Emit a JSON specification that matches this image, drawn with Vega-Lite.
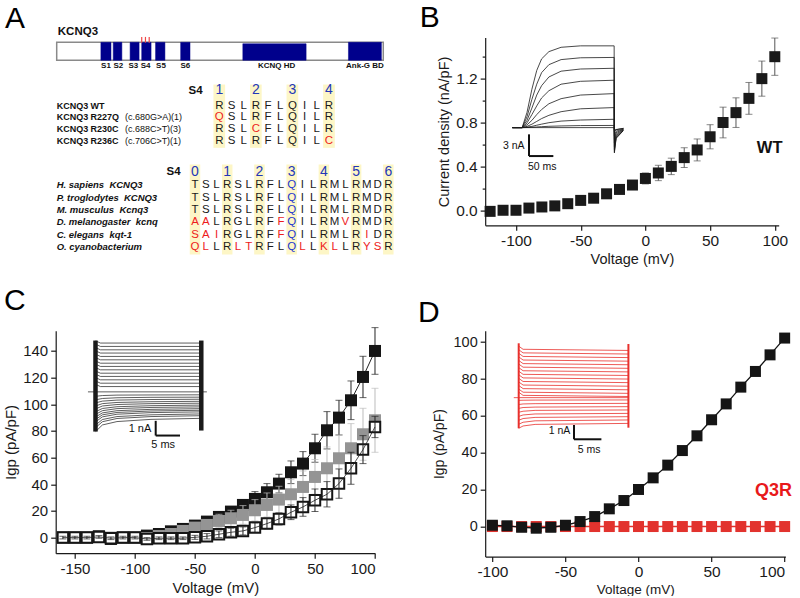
{
"$schema":"https://vega.github.io/schema/vega-lite/v6.json",
"background":"white",
"padding":{"left":2.7,"top":2.6,"right":0,"bottom":0},
"columns":2,
"align":"none",
"bounds":"flush",
"spacing":{"row":105.1,"column":109.5},
"config":{
 "view":{"stroke":null},
 "font":"Liberation Sans",
 "title":{"font":"Liberation Sans","fontSize":30,"fontWeight":"normal","anchor":"start","frame":"group","baseline":"alphabetic","color":"#000"},
 "axis":{"domainColor":"#1a1a1a","tickColor":"#1a1a1a","labelColor":"#1a1a1a","titleColor":"#1a1a1a","grid":false,"labelFont":"Liberation Sans","titleFont":"Liberation Sans","titleFontWeight":"normal","tickSize":5,"labelPadding":3,"titlePadding":4,"domainWidth":1.2,"tickWidth":1.2},
 "text":{"font":"Liberation Sans"}
},
"concat":[
{
 "width":316.3,"height":182.7,
 "title":{"text":"A","dx":-50.7,"offset":-7.9},
 "layer":[
  {
   "data":{"values":[
    {"kind":"bar","x":0,"x2":872,"y":0,"y2":1},
    {"kind":"blk","x":118,"x2":145,"y":0,"y2":1},
    {"kind":"blk","x":151,"x2":174,"y":0,"y2":1},
    {"kind":"blk","x":196,"x2":220,"y":0,"y2":1},
    {"kind":"blk","x":227,"x2":252,"y":0,"y2":1},
    {"kind":"blk","x":264,"x2":289,"y":0,"y2":1},
    {"kind":"blk","x":331,"x2":356,"y":0,"y2":1},
    {"kind":"blk","x":497,"x2":666,"y":0.08,"y2":1},
    {"kind":"blk","x":779,"x2":867,"y":0,"y2":1},
    {"kind":"tick","x":227,"y":-0.3,"y2":0.02},
    {"kind":"tick","x":237,"y":-0.3,"y2":0.02},
    {"kind":"tick","x":247,"y":-0.3,"y2":0.02},
    {"kind":"lab","x":131.6,"y":1.3,"label":"S1"},
    {"kind":"lab","x":164.5,"y":1.3,"label":"S2"},
    {"kind":"lab","x":204.5,"y":1.3,"label":"S3"},
    {"kind":"lab","x":237.6,"y":1.3,"label":"S4"},
    {"kind":"lab","x":278.5,"y":1.3,"label":"S5"},
    {"kind":"lab","x":343.4,"y":1.3,"label":"S6"},
    {"kind":"lab","x":587,"y":1.3,"label":"KCNQ HD"},
    {"kind":"lab","x":823,"y":1.3,"label":"Ank-G BD"},
    {"kind":"ttl","x":3,"y":-0.57,"label":"KCNQ3"}
   ]},
   "encoding":{
    "x":{"field":"x","type":"quantitative","scale":{"domain":[-2.67,841.9],"nice":false,"zero":false},"axis":null},
    "y":{"field":"y","type":"quantitative","scale":{"domain":[-0.261,9.889],"nice":false,"zero":false,"reverse":true},"axis":null}
   },
   "layer":[
    {"transform":[{"filter":"datum.kind=='bar'"}],"mark":{"type":"rect","fill":"white","stroke":"#8a8a8a","strokeWidth":1.5},"encoding":{"x2":{"field":"x2"},"y2":{"field":"y2"}}},
    {"transform":[{"filter":"datum.kind=='blk'"}],"mark":{"type":"rect","fill":"#00008c","stroke":"#00008c","strokeWidth":0.5},"encoding":{"x2":{"field":"x2"},"y2":{"field":"y2"}}},
    {"transform":[{"filter":"datum.kind=='tick'"}],"mark":{"type":"rule","color":"#f04848","strokeWidth":1.2},"encoding":{"y2":{"field":"y2"}}},
    {"transform":[{"filter":"datum.kind=='lab'"}],"mark":{"type":"text","fontSize":8,"fontWeight":"bold","baseline":"middle","color":"#111"},"encoding":{"text":{"field":"label"}}},
    {"transform":[{"filter":"datum.kind=='ttl'"}],"mark":{"type":"text","fontSize":11.5,"fontWeight":"bold","baseline":"middle","align":"left","color":"#111"},"encoding":{"text":{"field":"label"}}}
   ]
  },
  {
   "encoding":{
    "x":{"field":"c","type":"quantitative","scale":{"domain":[-13.42,12.53],"nice":false,"zero":false},"axis":null},
    "y":{"field":"r","type":"quantitative","scale":{"domain":[-4.714,10.64],"nice":false,"zero":false,"reverse":true},"axis":null}
   },
   "layer":[
    {"data":{"values":[{"c":0,"r":-0.77,"r2":4.55},{"c":3,"r":-0.77,"r2":4.55},{"c":6,"r":-0.77,"r2":4.55},{"c":9,"r":-0.77,"r2":4.55}]},"mark":{"type":"rule","color":"#fdf6c6","strokeWidth":11.7},"encoding":{"y2":{"field":"r2"}}},
    {"data":{"values":[{"c":0,"r":-0.35,"n":"1"},{"c":3,"r":-0.35,"n":"2"},{"c":6,"r":-0.35,"n":"3"},{"c":9,"r":-0.35,"n":"4"}]},"mark":{"type":"text","fontSize":14,"color":"#2336b8","baseline":"middle"},"encoding":{"text":{"field":"n"}}},
    {"data":{"values":[{"c":-1.95,"r":-0.2,"n":"S4"}]},"mark":{"type":"text","fontSize":11.5,"fontWeight":"bold","baseline":"middle","color":"#111"},"encoding":{"text":{"field":"n"}}},
    {"data":{"values":[{"c":-13.34,"r":1,"n":"KCNQ3 WT"},{"c":-13.34,"r":2,"n":"KCNQ3 R227Q"},{"c":-13.34,"r":3,"n":"KCNQ3 R230C"},{"c":-13.34,"r":4,"n":"KCNQ3 R236C"}]},"mark":{"type":"text","fontSize":9,"fontWeight":"bold","align":"left","baseline":"middle","color":"#111"},"encoding":{"text":{"field":"n"}}},
    {"data":{"values":[{"c":-7.74,"r":2,"n":"(c.680G>A)(1)"},{"c":-7.74,"r":3,"n":"(c.688C>T)(3)"},{"c":-7.74,"r":4,"n":"(c.706C>T)(1)"}]},"mark":{"type":"text","fontSize":9,"align":"left","baseline":"middle","color":"#111"},"encoding":{"text":{"field":"n"}}},
    {"data":{"values":[
     {"r":1,"c":0,"t":"R","k":"k"},{"r":1,"c":1,"t":"S","k":"k"},{"r":1,"c":2,"t":"L","k":"k"},{"r":1,"c":3,"t":"R","k":"k"},{"r":1,"c":4,"t":"F","k":"k"},{"r":1,"c":5,"t":"L","k":"k"},{"r":1,"c":6,"t":"Q","k":"k"},{"r":1,"c":7,"t":"I","k":"k"},{"r":1,"c":8,"t":"L","k":"k"},{"r":1,"c":9,"t":"R","k":"k"},
     {"r":2,"c":0,"t":"Q","k":"r"},{"r":2,"c":1,"t":"S","k":"k"},{"r":2,"c":2,"t":"L","k":"k"},{"r":2,"c":3,"t":"R","k":"k"},{"r":2,"c":4,"t":"F","k":"k"},{"r":2,"c":5,"t":"L","k":"k"},{"r":2,"c":6,"t":"Q","k":"k"},{"r":2,"c":7,"t":"I","k":"k"},{"r":2,"c":8,"t":"L","k":"k"},{"r":2,"c":9,"t":"R","k":"k"},
     {"r":3,"c":0,"t":"R","k":"k"},{"r":3,"c":1,"t":"S","k":"k"},{"r":3,"c":2,"t":"L","k":"k"},{"r":3,"c":3,"t":"C","k":"r"},{"r":3,"c":4,"t":"F","k":"k"},{"r":3,"c":5,"t":"L","k":"k"},{"r":3,"c":6,"t":"Q","k":"k"},{"r":3,"c":7,"t":"I","k":"k"},{"r":3,"c":8,"t":"L","k":"k"},{"r":3,"c":9,"t":"R","k":"k"},
     {"r":4,"c":0,"t":"R","k":"k"},{"r":4,"c":1,"t":"S","k":"k"},{"r":4,"c":2,"t":"L","k":"k"},{"r":4,"c":3,"t":"R","k":"k"},{"r":4,"c":4,"t":"F","k":"k"},{"r":4,"c":5,"t":"L","k":"k"},{"r":4,"c":6,"t":"Q","k":"k"},{"r":4,"c":7,"t":"I","k":"k"},{"r":4,"c":8,"t":"L","k":"k"},{"r":4,"c":9,"t":"C","k":"r"}
    ]},"mark":{"type":"text","fontSize":11.5,"baseline":"middle"},"encoding":{"text":{"field":"t"},"color":{"field":"k","type":"nominal","scale":{"domain":["k","r","b"],"range":["#1a1a1a","#ee1c1c","#2336d0"]},"legend":null}}}
   ]
  },
  {
   "encoding":{
    "x":{"field":"c","type":"quantitative","scale":{"domain":[-12.97,16.48],"nice":false,"zero":false},"axis":null},
    "y":{"field":"r","type":"quantitative","scale":{"domain":[-10.99,3.84],"nice":false,"zero":false,"reverse":true},"axis":null}
   },
   "layer":[
    {"data":{"values":[{"c":0,"r":-0.68,"r2":6.62},{"c":3,"r":-0.68,"r2":6.62},{"c":6,"r":-0.68,"r2":6.62},{"c":9,"r":-0.68,"r2":6.62},{"c":12,"r":-0.68,"r2":6.62},{"c":15,"r":-0.68,"r2":6.62},{"c":18,"r":-0.68,"r2":6.62}]},"mark":{"type":"rule","color":"#fdf6c6","strokeWidth":10.5},"encoding":{"y2":{"field":"r2"}}},
    {"data":{"values":[{"c":0,"r":-0.12,"n":"0"},{"c":3,"r":-0.12,"n":"1"},{"c":6,"r":-0.12,"n":"2"},{"c":9,"r":-0.12,"n":"3"},{"c":12,"r":-0.12,"n":"4"},{"c":15,"r":-0.12,"n":"5"},{"c":18,"r":-0.12,"n":"6"}]},"mark":{"type":"text","fontSize":14,"color":"#2336b8","baseline":"middle"},"encoding":{"text":{"field":"n"}}},
    {"data":{"values":[{"c":-2.0,"r":-0.09,"n":"S4"}]},"mark":{"type":"text","fontSize":11.5,"fontWeight":"bold","baseline":"middle","color":"#111"},"encoding":{"text":{"field":"n"}}},
    {"data":{"values":[{"c":-12.88,"r":1,"n":"H. sapiens\u00a0 KCNQ3"},{"c":-12.88,"r":2,"n":"P. troglodytes\u00a0 KCNQ3"},{"c":-12.88,"r":3,"n":"M. musculus\u00a0 Kcnq3"},{"c":-12.88,"r":4,"n":"D. melanogaster\u00a0 kcnq"},{"c":-12.88,"r":5,"n":"C. elegans\u00a0 kqt-1"},{"c":-12.88,"r":6,"n":"O. cyanobacterium"}]},"mark":{"type":"text","fontSize":9.5,"fontWeight":"bold","fontStyle":"italic","align":"left","baseline":"middle","color":"#111"},"encoding":{"text":{"field":"n"}}},
    {"data":{"values":[
     {"r":1,"c":0,"t":"T","k":"k"},{"r":1,"c":1,"t":"S","k":"k"},{"r":1,"c":2,"t":"L","k":"k"},{"r":1,"c":3,"t":"R","k":"k"},{"r":1,"c":4,"t":"S","k":"k"},{"r":1,"c":5,"t":"L","k":"k"},{"r":1,"c":6,"t":"R","k":"k"},{"r":1,"c":7,"t":"F","k":"k"},{"r":1,"c":8,"t":"L","k":"k"},{"r":1,"c":9,"t":"Q","k":"b"},{"r":1,"c":10,"t":"I","k":"k"},{"r":1,"c":11,"t":"L","k":"k"},{"r":1,"c":12,"t":"R","k":"k"},{"r":1,"c":13,"t":"M","k":"k"},{"r":1,"c":14,"t":"L","k":"k"},{"r":1,"c":15,"t":"R","k":"k"},{"r":1,"c":16,"t":"M","k":"k"},{"r":1,"c":17,"t":"D","k":"k"},{"r":1,"c":18,"t":"R","k":"k"},
     {"r":2,"c":0,"t":"T","k":"k"},{"r":2,"c":1,"t":"S","k":"k"},{"r":2,"c":2,"t":"L","k":"k"},{"r":2,"c":3,"t":"R","k":"k"},{"r":2,"c":4,"t":"S","k":"k"},{"r":2,"c":5,"t":"L","k":"k"},{"r":2,"c":6,"t":"R","k":"k"},{"r":2,"c":7,"t":"F","k":"k"},{"r":2,"c":8,"t":"L","k":"k"},{"r":2,"c":9,"t":"Q","k":"b"},{"r":2,"c":10,"t":"I","k":"k"},{"r":2,"c":11,"t":"L","k":"k"},{"r":2,"c":12,"t":"R","k":"k"},{"r":2,"c":13,"t":"M","k":"k"},{"r":2,"c":14,"t":"L","k":"k"},{"r":2,"c":15,"t":"R","k":"k"},{"r":2,"c":16,"t":"M","k":"k"},{"r":2,"c":17,"t":"D","k":"k"},{"r":2,"c":18,"t":"R","k":"k"},
     {"r":3,"c":0,"t":"T","k":"k"},{"r":3,"c":1,"t":"S","k":"k"},{"r":3,"c":2,"t":"L","k":"k"},{"r":3,"c":3,"t":"R","k":"k"},{"r":3,"c":4,"t":"S","k":"k"},{"r":3,"c":5,"t":"L","k":"k"},{"r":3,"c":6,"t":"R","k":"k"},{"r":3,"c":7,"t":"F","k":"k"},{"r":3,"c":8,"t":"L","k":"k"},{"r":3,"c":9,"t":"Q","k":"b"},{"r":3,"c":10,"t":"I","k":"k"},{"r":3,"c":11,"t":"L","k":"k"},{"r":3,"c":12,"t":"R","k":"k"},{"r":3,"c":13,"t":"M","k":"k"},{"r":3,"c":14,"t":"L","k":"k"},{"r":3,"c":15,"t":"R","k":"k"},{"r":3,"c":16,"t":"M","k":"k"},{"r":3,"c":17,"t":"D","k":"k"},{"r":3,"c":18,"t":"R","k":"k"},
     {"r":4,"c":0,"t":"A","k":"r"},{"r":4,"c":1,"t":"A","k":"r"},{"r":4,"c":2,"t":"L","k":"k"},{"r":4,"c":3,"t":"R","k":"k"},{"r":4,"c":4,"t":"G","k":"k"},{"r":4,"c":5,"t":"L","k":"k"},{"r":4,"c":6,"t":"R","k":"k"},{"r":4,"c":7,"t":"F","k":"k"},{"r":4,"c":8,"t":"F","k":"r"},{"r":4,"c":9,"t":"Q","k":"b"},{"r":4,"c":10,"t":"I","k":"k"},{"r":4,"c":11,"t":"L","k":"k"},{"r":4,"c":12,"t":"R","k":"k"},{"r":4,"c":13,"t":"M","k":"k"},{"r":4,"c":14,"t":"V","k":"r"},{"r":4,"c":15,"t":"R","k":"k"},{"r":4,"c":16,"t":"M","k":"k"},{"r":4,"c":17,"t":"D","k":"k"},{"r":4,"c":18,"t":"R","k":"k"},
     {"r":5,"c":0,"t":"S","k":"r"},{"r":5,"c":1,"t":"A","k":"r"},{"r":5,"c":2,"t":"I","k":"r"},{"r":5,"c":3,"t":"R","k":"k"},{"r":5,"c":4,"t":"G","k":"k"},{"r":5,"c":5,"t":"L","k":"k"},{"r":5,"c":6,"t":"R","k":"k"},{"r":5,"c":7,"t":"F","k":"k"},{"r":5,"c":8,"t":"F","k":"r"},{"r":5,"c":9,"t":"Q","k":"b"},{"r":5,"c":10,"t":"I","k":"k"},{"r":5,"c":11,"t":"L","k":"k"},{"r":5,"c":12,"t":"R","k":"k"},{"r":5,"c":13,"t":"M","k":"k"},{"r":5,"c":14,"t":"L","k":"k"},{"r":5,"c":15,"t":"R","k":"k"},{"r":5,"c":16,"t":"I","k":"r"},{"r":5,"c":17,"t":"D","k":"k"},{"r":5,"c":18,"t":"R","k":"k"},
     {"r":6,"c":0,"t":"Q","k":"r"},{"r":6,"c":1,"t":"L","k":"r"},{"r":6,"c":2,"t":"L","k":"k"},{"r":6,"c":3,"t":"R","k":"k"},{"r":6,"c":4,"t":"L","k":"r"},{"r":6,"c":5,"t":"T","k":"r"},{"r":6,"c":6,"t":"R","k":"k"},{"r":6,"c":7,"t":"F","k":"k"},{"r":6,"c":8,"t":"L","k":"k"},{"r":6,"c":9,"t":"Q","k":"b"},{"r":6,"c":10,"t":"L","k":"r"},{"r":6,"c":11,"t":"L","k":"k"},{"r":6,"c":12,"t":"K","k":"r"},{"r":6,"c":13,"t":"L","k":"r"},{"r":6,"c":14,"t":"L","k":"k"},{"r":6,"c":15,"t":"R","k":"k"},{"r":6,"c":16,"t":"Y","k":"r"},{"r":6,"c":17,"t":"S","k":"r"},{"r":6,"c":18,"t":"R","k":"k"}
    ]},"mark":{"type":"text","fontSize":11.5,"baseline":"middle"},"encoding":{"text":{"field":"t"},"color":{"field":"k","type":"nominal","scale":{"domain":["k","r","b"],"range":["#1a1a1a","#ee1c1c","#2336d0"]},"legend":null}}}
   ]
  }
 ],
 "resolve":{"scale":{"x":"independent","y":"independent"}}
},
{
 "width":293.5,"height":187.7,
 "title":{"text":"B","dx":-65.5,"offset":4.7},
 "layer":[
  {
   "data":{"values":[
    {"v":-120,"m":-0.01,"e":0.005},{"v":-110,"m":0.0,"e":0.005},{"v":-100,"m":0.0,"e":0.005},{"v":-90,"m":0.02,"e":0.008},{"v":-80,"m":0.03,"e":0.008},{"v":-70,"m":0.04,"e":0.01},{"v":-60,"m":0.06,"e":0.01},{"v":-50,"m":0.09,"e":0.015},{"v":-40,"m":0.11,"e":0.015},{"v":-30,"m":0.15,"e":0.02},{"v":-20,"m":0.19,"e":0.025},{"v":-10,"m":0.23,"e":0.03},{"v":0,"m":0.29,"e":0.05},{"v":10,"m":0.34,"e":0.07},{"v":20,"m":0.40,"e":0.075},{"v":30,"m":0.48,"e":0.09},{"v":40,"m":0.55,"e":0.1},{"v":50,"m":0.67,"e":0.11},{"v":60,"m":0.80,"e":0.14},{"v":70,"m":0.89,"e":0.135},{"v":80,"m":1.02,"e":0.145},{"v":90,"m":1.20,"e":0.16},{"v":100,"m":1.40,"e":0.17}
   ]},
   "encoding":{
    "x":{"field":"v","type":"quantitative","scale":{"domain":[-123.8,103],"nice":false,"zero":false},"axis":{"values":[-100,-50,0,50,100],"title":"Voltage (mV)","labelExpr":"''+datum.value","labelFontSize":15.5,"titleFontSize":14.5}},
    "y":{"field":"m","type":"quantitative","scale":{"domain":[-0.137,1.574],"nice":false,"zero":false},"axis":{"values":[0,0.2,0.4,0.6,0.8,1,1.2,1.4],"labelExpr":"(datum.value==0||datum.value==0.4||datum.value==0.8||datum.value==1.2)?format(datum.value,'.1f'):''","tickSize":{"condition":{"test":"datum.value==0.2||datum.value==0.6||datum.value==1||datum.value==1.4","value":3},"value":5},"title":"Current density (nA/pF)","labelFontSize":15.5,"titleFontSize":14.5}}
   },
   "layer":[
    {"mark":{"type":"errorbar","color":"#555","ticks":{"size":7,"color":"#555"}},"encoding":{"yError":{"field":"e"}}},
    {"mark":{"type":"square","size":121,"color":"#1a1a1a","opacity":1}},
    {"data":{"values":[{"v":96,"m":0.565,"n":"WT"}]},"mark":{"type":"text","fontSize":16.5,"fontWeight":"bold","color":"#111","baseline":"middle"},"encoding":{"text":{"field":"n"}}}
   ]
  },
  {
   "data":{"values":[
    {"k":1,"t":0,"i":0},{"k":1,"t":20,"i":0},{"k":1,"t":30,"i":2.1},{"k":1,"t":40,"i":5.3},{"k":1,"t":50,"i":7.9},{"k":1,"t":60,"i":9.5},{"k":1,"t":75,"i":10.5},{"k":1,"t":100,"i":11.1},{"k":1,"t":140,"i":11.3},{"k":1,"t":209,"i":11.3},{"k":1,"t":209.5,"i":-3.5},{"k":1,"t":213,"i":-1.5},{"k":1,"t":228,"i":-0.4},
    {"k":2,"t":0,"i":0},{"k":2,"t":20,"i":0},{"k":2,"t":30,"i":1.5},{"k":2,"t":40,"i":3.9},{"k":2,"t":50,"i":6.0},{"k":2,"t":60,"i":7.6},{"k":2,"t":75,"i":8.7},{"k":2,"t":100,"i":9.4},{"k":2,"t":140,"i":9.65},{"k":2,"t":209,"i":9.7},{"k":2,"t":209.5,"i":-3.3},{"k":2,"t":213,"i":-1.4},{"k":2,"t":228,"i":-0.4},
    {"k":3,"t":0,"i":0},{"k":3,"t":20,"i":0},{"k":3,"t":30,"i":1.0},{"k":3,"t":40,"i":2.7},{"k":3,"t":50,"i":4.5},{"k":3,"t":60,"i":5.8},{"k":3,"t":75,"i":7.0},{"k":3,"t":100,"i":7.8},{"k":3,"t":140,"i":8.1},{"k":3,"t":209,"i":8.2},{"k":3,"t":209.5,"i":-3.0},{"k":3,"t":213,"i":-1.3},{"k":3,"t":228,"i":-0.35},
    {"k":4,"t":0,"i":0},{"k":4,"t":20,"i":0},{"k":4,"t":30,"i":0.65},{"k":4,"t":40,"i":1.8},{"k":4,"t":50,"i":3.0},{"k":4,"t":60,"i":4.1},{"k":4,"t":75,"i":5.1},{"k":4,"t":100,"i":6.0},{"k":4,"t":140,"i":6.4},{"k":4,"t":209,"i":6.55},{"k":4,"t":209.5,"i":-2.6},{"k":4,"t":213,"i":-1.1},{"k":4,"t":228,"i":-0.3},
    {"k":5,"t":0,"i":0},{"k":5,"t":20,"i":0},{"k":5,"t":30,"i":0.38},{"k":5,"t":40,"i":1.0},{"k":5,"t":50,"i":1.8},{"k":5,"t":60,"i":2.5},{"k":5,"t":75,"i":3.3},{"k":5,"t":100,"i":4.0},{"k":5,"t":140,"i":4.5},{"k":5,"t":209,"i":4.7},{"k":5,"t":209.5,"i":-2.1},{"k":5,"t":213,"i":-0.9},{"k":5,"t":228,"i":-0.25},
    {"k":6,"t":0,"i":0},{"k":6,"t":20,"i":0},{"k":6,"t":30,"i":0.17},{"k":6,"t":40,"i":0.47},{"k":6,"t":50,"i":0.86},{"k":6,"t":60,"i":1.25},{"k":6,"t":75,"i":1.7},{"k":6,"t":100,"i":2.2},{"k":6,"t":140,"i":2.6},{"k":6,"t":209,"i":2.77},{"k":6,"t":209.5,"i":-1.6},{"k":6,"t":213,"i":-0.7},{"k":6,"t":228,"i":-0.2},
    {"k":7,"t":0,"i":0},{"k":7,"t":20,"i":0},{"k":7,"t":30,"i":0.06},{"k":7,"t":40,"i":0.17},{"k":7,"t":50,"i":0.33},{"k":7,"t":60,"i":0.48},{"k":7,"t":75,"i":0.68},{"k":7,"t":100,"i":0.9},{"k":7,"t":140,"i":1.05},{"k":7,"t":209,"i":1.15},{"k":7,"t":209.5,"i":-1.1},{"k":7,"t":213,"i":-0.5},{"k":7,"t":228,"i":-0.15},
    {"k":8,"t":0,"i":0},{"k":8,"t":20,"i":0},{"k":8,"t":30,"i":0.02},{"k":8,"t":40,"i":0.05},{"k":8,"t":50,"i":0.09},{"k":8,"t":60,"i":0.13},{"k":8,"t":75,"i":0.18},{"k":8,"t":100,"i":0.23},{"k":8,"t":140,"i":0.28},{"k":8,"t":209,"i":0.3},{"k":8,"t":209.5,"i":-0.6},{"k":8,"t":213,"i":-0.3},{"k":8,"t":228,"i":-0.1},
    {"k":9,"t":0,"i":0},{"k":9,"t":209,"i":0},{"k":9,"t":209.5,"i":-0.3},{"k":9,"t":228,"i":-0.1}
   ]},
   "encoding":{
    "x":{"field":"t","type":"quantitative","scale":{"domain":[-55.9,547],"nice":false,"zero":false},"axis":null},
    "y":{"field":"i","type":"quantitative","scale":{"domain":[-13.5,12.44],"nice":false,"zero":false},"axis":null}
   },
   "layer":[
    {"mark":{"type":"line","color":"#1a1a1a","strokeWidth":0.8},"encoding":{"detail":{"field":"k"}}},
    {"data":{"values":[{"t":34.1,"t2":34.1,"i":-0.93,"i2":-3.93},{"t":34.1,"t2":84.1,"i":-3.93,"i2":-3.93}]},"mark":{"type":"rule","color":"#111","strokeWidth":2},"encoding":{"x2":{"field":"t2"},"y2":{"field":"i2"}}},
    {"data":{"values":[{"t":2.7,"i":-2.54,"s":"3 nA"},{"t":61.3,"i":-5.45,"s":"50 ms"}]},"mark":{"type":"text","fontSize":10.5,"baseline":"middle","color":"#111"},"encoding":{"text":{"field":"s"}}}
   ]
  }
 ],
 "resolve":{"scale":{"x":"independent","y":"independent"}}
},
{
 "width":319.3,"height":222.5,
 "title":{"text":"C","dx":-51.8,"offset":11},
 "layer":[
  {
   "data":{"values":[
    {"s":"a","v":-160,"m":0,"e":1},{"s":"a","v":-150,"m":0,"e":1},{"s":"a","v":-140,"m":0,"e":1},{"s":"a","v":-130,"m":1,"e":1},{"s":"a","v":-120,"m":-1,"e":1},{"s":"a","v":-110,"m":0,"e":1},{"s":"a","v":-100,"m":0,"e":1},{"s":"a","v":-90,"m":1.5,"e":1},{"s":"a","v":-80,"m":2.7,"e":1.5},{"s":"a","v":-70,"m":4.7,"e":1.5},{"s":"a","v":-60,"m":6.5,"e":2},{"s":"a","v":-50,"m":9,"e":2},{"s":"a","v":-40,"m":12,"e":2.5},{"s":"a","v":-30,"m":15.5,"e":3},{"s":"a","v":-20,"m":19.5,"e":3.5},{"s":"a","v":-10,"m":24.5,"e":4},{"s":"a","v":0,"m":29,"e":5.5},{"s":"a","v":10,"m":34,"e":6.5},{"s":"a","v":20,"m":40.5,"e":7},{"s":"a","v":30,"m":49,"e":8.5},{"s":"a","v":40,"m":55.5,"e":9},{"s":"a","v":50,"m":67,"e":10.5},{"s":"a","v":60,"m":80.5,"e":14},{"s":"a","v":70,"m":90,"e":13},{"s":"a","v":80,"m":103,"e":14.5},{"s":"a","v":90,"m":120.5,"e":15.5},{"s":"a","v":100,"m":140,"e":17.5},
    {"s":"b","v":-160,"m":0,"e":1},{"s":"b","v":-150,"m":0,"e":1},{"s":"b","v":-140,"m":0,"e":1},{"s":"b","v":-130,"m":0.5,"e":1},{"s":"b","v":-120,"m":0,"e":1},{"s":"b","v":-110,"m":0,"e":1},{"s":"b","v":-100,"m":0,"e":1},{"s":"b","v":-90,"m":-0.3,"e":1},{"s":"b","v":-80,"m":1.2,"e":1.5},{"s":"b","v":-70,"m":2.7,"e":2},{"s":"b","v":-60,"m":5,"e":2.5},{"s":"b","v":-50,"m":7.5,"e":3},{"s":"b","v":-40,"m":9.5,"e":4},{"s":"b","v":-30,"m":12.5,"e":5},{"s":"b","v":-20,"m":14.5,"e":6},{"s":"b","v":-10,"m":17,"e":7},{"s":"b","v":0,"m":20.5,"e":8},{"s":"b","v":10,"m":24.5,"e":9},{"s":"b","v":20,"m":28.5,"e":10},{"s":"b","v":30,"m":32.5,"e":11},{"s":"b","v":40,"m":38,"e":12},{"s":"b","v":50,"m":45.5,"e":13},{"s":"b","v":60,"m":52,"e":16},{"s":"b","v":70,"m":59.5,"e":17.5},{"s":"b","v":80,"m":67,"e":18.5},{"s":"b","v":90,"m":77.5,"e":19.5},{"s":"b","v":100,"m":88,"e":24},
    {"s":"c","v":-160,"m":0,"e":1},{"s":"c","v":-150,"m":0,"e":1},{"s":"c","v":-140,"m":0,"e":1},{"s":"c","v":-130,"m":0.5,"e":1},{"s":"c","v":-120,"m":-0.5,"e":1},{"s":"c","v":-110,"m":0,"e":1},{"s":"c","v":-100,"m":0,"e":1},{"s":"c","v":-90,"m":-1,"e":1},{"s":"c","v":-80,"m":-0.5,"e":1},{"s":"c","v":-70,"m":-0.5,"e":1},{"s":"c","v":-60,"m":-0.5,"e":1},{"s":"c","v":-50,"m":0.2,"e":1.5},{"s":"c","v":-40,"m":1,"e":2},{"s":"c","v":-30,"m":2.5,"e":2.5},{"s":"c","v":-20,"m":4,"e":3},{"s":"c","v":-10,"m":5,"e":3},{"s":"c","v":0,"m":7.5,"e":3.5},{"s":"c","v":10,"m":10.5,"e":4},{"s":"c","v":20,"m":14,"e":4.5},{"s":"c","v":30,"m":19,"e":5.5},{"s":"c","v":40,"m":23,"e":7},{"s":"c","v":50,"m":28,"e":8.5},{"s":"c","v":60,"m":32.5,"e":9.5},{"s":"c","v":70,"m":40.5,"e":11},{"s":"c","v":80,"m":52,"e":12},{"s":"c","v":90,"m":66,"e":10.5},{"s":"c","v":100,"m":83,"e":8}
   ]},
   "encoding":{
    "x":{"field":"v","type":"quantitative","scale":{"domain":[-166,100],"nice":false,"zero":false},"axis":{"values":[-150,-100,-50,0,50,100],"title":"Voltage (mV)","labelExpr":"''+datum.value","labelFontSize":15,"titleFontSize":15}},
    "y":{"field":"m","type":"quantitative","scale":{"domain":[-11.7,155.2],"nice":false,"zero":false},"axis":{"values":[0,20,40,60,80,100,120,140],"title":"Igp (pA/pF)","labelFontSize":15,"titleFontSize":15}}
   },
   "layer":[
    {"transform":[{"filter":"datum.s=='a'"}],"mark":{"type":"errorbar","color":"#222","ticks":{"size":7,"color":"#222"}},"encoding":{"yError":{"field":"e"}}},
    {"transform":[{"filter":"datum.s=='a'"}],"mark":{"type":"line","color":"#222","strokeWidth":1}},
    {"transform":[{"filter":"datum.s=='a'"}],"mark":{"type":"square","size":144,"color":"#151515","opacity":1}},
    {"transform":[{"filter":"datum.s=='b'"}],"mark":{"type":"errorbar","color":"#bdbdbd","ticks":{"size":7,"color":"#bdbdbd"}},"encoding":{"yError":{"field":"e"}}},
    {"transform":[{"filter":"datum.s=='b'"}],"mark":{"type":"square","size":144,"color":"#949494","opacity":1}},
    {"transform":[{"filter":"datum.s=='c'"}],"mark":{"type":"square","size":110,"filled":true,"fill":"white","stroke":"#151515","strokeWidth":2,"opacity":1}},
    {"transform":[{"filter":"datum.s=='c'"}],"mark":{"type":"errorbar","color":"#222","ticks":{"size":7,"color":"#222"}},"encoding":{"yError":{"field":"e"}}},
    {"transform":[{"filter":"datum.s=='c'"}],"mark":{"type":"line","color":"#222","strokeWidth":0.8}}
   ]
  },
  {
   "data":{"values":[
    {"k":0,"t":-0.97,"i":0},{"k":0,"t":23.5,"i":0},
    {"k":1,"t":0.6,"i":3.47},{"k":1,"t":1.6,"i":3.32},{"k":1,"t":22.35,"i":3.32},
    {"k":2,"t":0.6,"i":3.24},{"k":2,"t":1.6,"i":3.09},{"k":2,"t":22.35,"i":3.09},
    {"k":3,"t":0.6,"i":3.01},{"k":3,"t":1.6,"i":2.86},{"k":3,"t":22.35,"i":2.86},
    {"k":4,"t":0.6,"i":2.79},{"k":4,"t":1.6,"i":2.64},{"k":4,"t":22.35,"i":2.64},
    {"k":5,"t":0.6,"i":2.56},{"k":5,"t":1.6,"i":2.41},{"k":5,"t":22.35,"i":2.41},
    {"k":6,"t":0.6,"i":2.33},{"k":6,"t":1.6,"i":2.18},{"k":6,"t":22.35,"i":2.18},
    {"k":7,"t":0.6,"i":2.1},{"k":7,"t":1.6,"i":1.95},{"k":7,"t":22.35,"i":1.95},
    {"k":8,"t":0.6,"i":1.88},{"k":8,"t":1.6,"i":1.73},{"k":8,"t":22.35,"i":1.73},
    {"k":9,"t":0.6,"i":1.65},{"k":9,"t":1.6,"i":1.5},{"k":9,"t":22.35,"i":1.5},
    {"k":10,"t":0.6,"i":1.42},{"k":10,"t":1.6,"i":1.27},{"k":10,"t":22.35,"i":1.27},
    {"k":11,"t":0.6,"i":1.2},{"k":11,"t":1.6,"i":1.05},{"k":11,"t":22.35,"i":1.05},
    {"k":12,"t":0.6,"i":0.97},{"k":12,"t":1.6,"i":0.82},{"k":12,"t":22.35,"i":0.82},
    {"k":13,"t":0.6,"i":0.74},{"k":13,"t":1.6,"i":0.59},{"k":13,"t":22.35,"i":0.59},
    {"k":14,"t":0.6,"i":0.51},{"k":14,"t":1.6,"i":0.36},{"k":14,"t":22.35,"i":0.36},
    {"k":21,"t":0.6,"i":-0.3},{"k":21,"t":2,"i":-0.25},{"k":21,"t":5,"i":-0.22},{"k":21,"t":12,"i":-0.21},{"k":21,"t":22.35,"i":-0.2},
    {"k":22,"t":0.6,"i":-0.54},{"k":22,"t":2,"i":-0.45},{"k":22,"t":5,"i":-0.4},{"k":22,"t":12,"i":-0.37},{"k":22,"t":22.35,"i":-0.36},
    {"k":23,"t":0.6,"i":-0.75},{"k":23,"t":2,"i":-0.63},{"k":23,"t":5,"i":-0.56},{"k":23,"t":12,"i":-0.52},{"k":23,"t":22.35,"i":-0.5},
    {"k":24,"t":0.6,"i":-0.96},{"k":24,"t":2,"i":-0.8},{"k":24,"t":5,"i":-0.72},{"k":24,"t":12,"i":-0.67},{"k":24,"t":22.35,"i":-0.64},
    {"k":25,"t":0.6,"i":-1.16},{"k":25,"t":2,"i":-0.96},{"k":25,"t":5,"i":-0.86},{"k":25,"t":12,"i":-0.8},{"k":25,"t":22.35,"i":-0.77},
    {"k":26,"t":0.6,"i":-1.35},{"k":26,"t":2,"i":-1.13},{"k":26,"t":5,"i":-1.01},{"k":26,"t":12,"i":-0.94},{"k":26,"t":22.35,"i":-0.9},
    {"k":27,"t":0.6,"i":-1.53},{"k":27,"t":2,"i":-1.28},{"k":27,"t":5,"i":-1.14},{"k":27,"t":12,"i":-1.06},{"k":27,"t":22.35,"i":-1.02},
    {"k":28,"t":0.6,"i":-1.71},{"k":28,"t":2,"i":-1.43},{"k":28,"t":5,"i":-1.28},{"k":28,"t":12,"i":-1.19},{"k":28,"t":22.35,"i":-1.14},
    {"k":29,"t":0.6,"i":-1.88},{"k":29,"t":2,"i":-1.56},{"k":29,"t":5,"i":-1.4},{"k":29,"t":12,"i":-1.3},{"k":29,"t":22.35,"i":-1.25},
    {"k":30,"t":0.6,"i":-2.04},{"k":30,"t":2,"i":-1.7},{"k":30,"t":5,"i":-1.52},{"k":30,"t":12,"i":-1.41},{"k":30,"t":22.35,"i":-1.36},
    {"k":31,"t":0.6,"i":-2.25},{"k":31,"t":2,"i":-1.88},{"k":31,"t":5,"i":-1.68},{"k":31,"t":12,"i":-1.56},{"k":31,"t":22.35,"i":-1.5},
    {"k":32,"t":0.6,"i":-2.43},{"k":32,"t":2,"i":-2.03},{"k":32,"t":5,"i":-1.81},{"k":32,"t":12,"i":-1.68},{"k":32,"t":22.35,"i":-1.62},
    {"k":33,"t":0.6,"i":-2.7},{"k":33,"t":2,"i":-2.25},{"k":33,"t":5,"i":-2.02},{"k":33,"t":12,"i":-1.87},{"k":33,"t":22.35,"i":-1.8}
   ]},
   "encoding":{
    "x":{"field":"t","type":"quantitative","scale":{"domain":[-7.61,58.1],"nice":false,"zero":false},"axis":null},
    "y":{"field":"i","type":"quantitative","scale":{"domain":[-10.97,4.16],"nice":false,"zero":false},"axis":null}
   },
   "layer":[
    {"mark":{"type":"line","color":"#1a1a1a","strokeWidth":0.7},"encoding":{"detail":{"field":"k"}}},
    {"data":{"values":[{"t":0.58,"i":-2.7,"i2":3.49},{"t":22.35,"i":-2.63,"i2":3.49}]},"mark":{"type":"rule","color":"#1a1a1a","strokeWidth":4.5},"encoding":{"y2":{"field":"i2"}}},
    {"data":{"values":[{"t":12.97,"t2":12.97,"i":-1.97,"i2":-2.97},{"t":12.97,"t2":17.97,"i":-2.97,"i2":-2.97}]},"mark":{"type":"rule","color":"#111","strokeWidth":2},"encoding":{"x2":{"field":"t2"},"y2":{"field":"i2"}}},
    {"data":{"values":[{"t":9.73,"i":-2.5,"s":"1 nA"},{"t":14.5,"i":-3.6,"s":"5 ms"}]},"mark":{"type":"text","fontSize":11,"baseline":"middle","color":"#111"},"encoding":{"text":{"field":"s"}}}
   ]
  }
 ],
 "resolve":{"scale":{"x":"independent","y":"independent"}}
},
{
 "width":300.2,"height":225.9,
 "title":{"text":"D","dx":-67.2,"offset":2.6},
 "layer":[
  {
   "data":{"values":[
    {"s":"r","v":-100,"m":0},{"s":"r","v":-90,"m":0},{"s":"r","v":-80,"m":0},{"s":"r","v":-70,"m":0},{"s":"r","v":-60,"m":0},{"s":"r","v":-50,"m":0},{"s":"r","v":-40,"m":0},{"s":"r","v":-30,"m":0},{"s":"r","v":-20,"m":0},{"s":"r","v":-10,"m":0},{"s":"r","v":0,"m":0},{"s":"r","v":10,"m":0},{"s":"r","v":20,"m":0},{"s":"r","v":30,"m":0},{"s":"r","v":40,"m":0},{"s":"r","v":50,"m":0},{"s":"r","v":60,"m":0},{"s":"r","v":70,"m":0},{"s":"r","v":80,"m":0},{"s":"r","v":90,"m":0},{"s":"r","v":100,"m":0},
    {"s":"w","v":-100,"m":0.7},{"s":"w","v":-90,"m":0.4},{"s":"w","v":-80,"m":-0.4},{"s":"w","v":-70,"m":-0.9},{"s":"w","v":-60,"m":-0.4},{"s":"w","v":-50,"m":0.7},{"s":"w","v":-40,"m":2.7},{"s":"w","v":-30,"m":5.4},{"s":"w","v":-20,"m":9.6},{"s":"w","v":-10,"m":14.1},{"s":"w","v":0,"m":20.1},{"s":"w","v":10,"m":26.4},{"s":"w","v":20,"m":33.3},{"s":"w","v":30,"m":41.2},{"s":"w","v":40,"m":49.2},{"s":"w","v":50,"m":57.9},{"s":"w","v":60,"m":66.5},{"s":"w","v":70,"m":75.6},{"s":"w","v":80,"m":84.1},{"s":"w","v":90,"m":93.1},{"s":"w","v":100,"m":102.2}
   ]},
   "encoding":{
    "x":{"field":"v","type":"quantitative","scale":{"domain":[-104.93,100.5],"nice":false,"zero":false},"axis":{"values":[-100,-50,0,50,100],"title":"Voltage (mV)","labelExpr":"''+datum.value","labelFontSize":15.5,"titleFontSize":13.5,"titlePadding":2}},
    "y":{"field":"m","type":"quantitative","scale":{"domain":[-16.3,106.2],"nice":false,"zero":false},"axis":{"values":[0,20,40,60,80,100],"title":"Igp (pA/pF)","labelFontSize":14.5,"titleFontSize":14,"titlePadding":7}}
   },
   "layer":[
    {"transform":[{"filter":"datum.s=='r'"}],"mark":{"type":"line","color":"#e2332e","strokeWidth":1.5}},
    {"transform":[{"filter":"datum.s=='r'"}],"mark":{"type":"square","size":121,"color":"#e2332e","opacity":1}},
    {"transform":[{"filter":"datum.s=='w'"}],"mark":{"type":"line","color":"#151515","strokeWidth":1.3}},
    {"transform":[{"filter":"datum.s=='w'"}],"mark":{"type":"square","size":121,"color":"#151515","opacity":1}},
    {"data":{"values":[{"v":92.4,"m":19,"n":"Q3R"}]},"mark":{"type":"text","fontSize":18,"fontWeight":"bold","color":"#e8191b","baseline":"middle"},"encoding":{"text":{"field":"n"}}}
   ]
  },
  {
   "data":{"values":[
    {"k":0,"t":-0.9,"i":0},{"k":0,"t":20.1,"i":0},
    {"k":1,"t":0,"i":3.6},{"k":1,"t":0.8,"i":3.38},{"k":1,"t":20.1,"i":3.3},
    {"k":2,"t":0,"i":3.35},{"k":2,"t":0.8,"i":3.13},{"k":2,"t":20.1,"i":3.05},
    {"k":3,"t":0,"i":3.1},{"k":3,"t":0.8,"i":2.88},{"k":3,"t":20.1,"i":2.8},
    {"k":4,"t":0,"i":2.85},{"k":4,"t":0.8,"i":2.63},{"k":4,"t":20.1,"i":2.55},
    {"k":5,"t":0,"i":2.6},{"k":5,"t":0.8,"i":2.38},{"k":5,"t":20.1,"i":2.3},
    {"k":6,"t":0,"i":2.35},{"k":6,"t":0.8,"i":2.13},{"k":6,"t":20.1,"i":2.05},
    {"k":7,"t":0,"i":2.1},{"k":7,"t":0.8,"i":1.88},{"k":7,"t":20.1,"i":1.8},
    {"k":8,"t":0,"i":1.85},{"k":8,"t":0.8,"i":1.63},{"k":8,"t":20.1,"i":1.55},
    {"k":9,"t":0,"i":1.6},{"k":9,"t":0.8,"i":1.38},{"k":9,"t":20.1,"i":1.3},
    {"k":10,"t":0,"i":1.35},{"k":10,"t":0.8,"i":1.13},{"k":10,"t":20.1,"i":1.05},
    {"k":11,"t":0,"i":1.1},{"k":11,"t":0.8,"i":0.88},{"k":11,"t":20.1,"i":0.8},
    {"k":12,"t":0,"i":0.85},{"k":12,"t":0.8,"i":0.63},{"k":12,"t":20.1,"i":0.55},
    {"k":13,"t":0,"i":0.6},{"k":13,"t":0.8,"i":0.38},{"k":13,"t":20.1,"i":0.3},
    {"k":14,"t":0,"i":0.38},{"k":14,"t":0.8,"i":0.16},{"k":14,"t":20.1,"i":0.08},
    {"k":21,"t":0,"i":-0.19},{"k":21,"t":0.8,"i":-0.18},{"k":21,"t":3,"i":-0.17},{"k":21,"t":20.1,"i":-0.16},
    {"k":22,"t":0,"i":-0.48},{"k":22,"t":0.8,"i":-0.44},{"k":22,"t":3,"i":-0.42},{"k":22,"t":20.1,"i":-0.4},
    {"k":23,"t":0,"i":-0.75},{"k":23,"t":0.8,"i":-0.69},{"k":23,"t":3,"i":-0.66},{"k":23,"t":20.1,"i":-0.63},
    {"k":24,"t":0,"i":-1.02},{"k":24,"t":0.8,"i":-0.95},{"k":24,"t":3,"i":-0.89},{"k":24,"t":20.1,"i":-0.86},
    {"k":25,"t":0,"i":-1.31},{"k":25,"t":0.8,"i":-1.21},{"k":25,"t":3,"i":-1.14},{"k":25,"t":20.1,"i":-1.1},
    {"k":26,"t":0,"i":-1.58},{"k":26,"t":0.8,"i":-1.46},{"k":26,"t":3,"i":-1.38},{"k":26,"t":20.1,"i":-1.33},
    {"k":27,"t":0,"i":-1.86},{"k":27,"t":0.8,"i":-1.72},{"k":27,"t":3,"i":-1.62},{"k":27,"t":20.1,"i":-1.56},
    {"k":28,"t":0,"i":-2.14},{"k":28,"t":0.8,"i":-1.98},{"k":28,"t":3,"i":-1.87},{"k":28,"t":20.1,"i":-1.8}
   ]},
   "encoding":{
    "x":{"field":"t","type":"quantitative","scale":{"domain":[-6.14,48.86],"nice":false,"zero":false},"axis":null},
    "y":{"field":"i","type":"quantitative","scale":{"domain":[-11.11,4.68],"nice":false,"zero":false},"axis":null}
   },
   "layer":[
    {"mark":{"type":"line","color":"#e8302c","strokeWidth":0.8},"encoding":{"detail":{"field":"k"}}},
    {"data":{"values":[{"t":0,"i":-2.14,"i2":3.8},{"t":20.1,"i":-2.1,"i2":3.75}]},"mark":{"type":"rule","color":"#e8302c","strokeWidth":2},"encoding":{"y2":{"field":"i2"}}},
    {"data":{"values":[{"t":10.13,"t2":10.13,"i":-1.91,"i2":-2.91},{"t":10.13,"t2":15.15,"i":-2.91,"i2":-2.91}]},"mark":{"type":"rule","color":"#111","strokeWidth":2},"encoding":{"x2":{"field":"t2"},"y2":{"field":"i2"}}},
    {"data":{"values":[{"t":7.47,"i":-2.33,"s":"1 nA"},{"t":12.9,"i":-3.66,"s":"5 ms"}]},"mark":{"type":"text","fontSize":10.5,"baseline":"middle","color":"#111"},"encoding":{"text":{"field":"s"}}}
   ]
  }
 ],
 "resolve":{"scale":{"x":"independent","y":"independent"}}
}
]
}
